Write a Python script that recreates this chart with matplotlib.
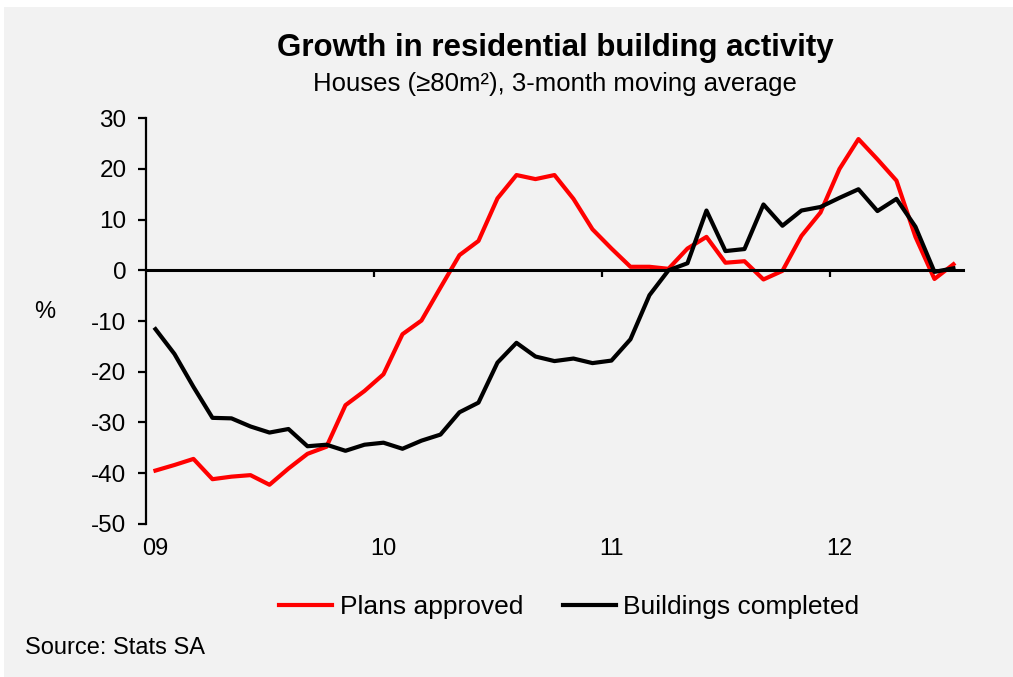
import numpy as np
import matplotlib.pyplot as plt
from matplotlib.patches import Rectangle

plt.rcParams['font.family'] = ['Liberation Sans', 'DejaVu Sans']
plt.rcParams['axes.unicode_minus'] = False

# monthly, Jan 2009 - Jul 2012
plans = [-39.5, -38.4, -37.2, -41.2, -40.7, -40.4, -42.3, -39.1, -36.2, -34.8,
         -26.6, -23.8, -20.5, -12.6, -9.9, -3.4, 3.0, 5.8, 14.2, 18.8,
         18.0, 18.8, 14.1, 8.1, 4.3, 0.7, 0.7, 0.3, 4.3, 6.6,
         1.5, 1.8, -1.8, -0.1, 6.8, 11.4, 20.0, 25.9, 21.9, 17.7,
         6.6, -1.7, 1.2]
completed = [-11.6, -16.5, -23.0, -29.1, -29.2, -30.8, -32.0, -31.3, -34.7, -34.4,
             -35.6, -34.4, -34.0, -35.2, -33.6, -32.4, -28.0, -26.1, -18.2, -14.3,
             -17.0, -17.9, -17.4, -18.3, -17.8, -13.6, -4.9, 0.0, 1.4, 11.8,
             3.8, 4.2, 13.0, 8.8, 11.8, 12.5, 14.3, 16.0, 11.7, 14.1,
             8.6, -0.3, 0.4]
year_labels = ['09', '10', '11', '12']

x = np.arange(len(plans))
bg = '#f2f2f2'

fig = plt.figure(figsize=(10.13, 6.77), dpi=100)
fig.patch.set_facecolor('white')
fig.patches.append(Rectangle((4 / 1013, 0), 1, 1 - 7 / 677, transform=fig.transFigure,
                             facecolor=bg, edgecolor='none', zorder=-10))

ax = fig.add_axes([0.1441, 0.2263, 0.8065, 0.599])
ax.patch.set_alpha(0)

ax.plot(x, plans, color='#ff0000', lw=3, label='Plans approved', zorder=3)
ax.plot(x, completed, color='black', lw=3, label='Buildings completed', zorder=3)

ax.set_xlim(-0.5, len(plans) - 0.5)
ax.set_ylim(-50, 30)
ax.set_yticks(np.arange(-50, 31, 10))

for s in ['top', 'right']:
    ax.spines[s].set_visible(False)
ax.spines['left'].set_linewidth(1.6)
ax.spines['bottom'].set_position(('data', 0))
ax.spines['bottom'].set_linewidth(2.2)
ax.spines['bottom'].set_zorder(4)

ax.set_xticks([11.5, 23.5, 35.5])
ax.set_xticklabels([])
ax.tick_params(axis='x', direction='out', length=5, width=1.6)
ax.tick_params(axis='y', direction='out', length=6, width=1.6, labelsize=17.5, pad=8)

sec = ax.secondary_xaxis('bottom')
sec.set_xticks(np.arange(0, len(plans), 12))
sec.set_xticklabels(year_labels)
sec.tick_params(length=0, labelsize=17, pad=10)
sec.spines['bottom'].set_visible(False)

fig.text(0.0444, 1 - 312 / 677, '%', fontsize=17, ha='center', va='center')
fig.text(0.548, 1 - 48 / 677, 'Growth in residential building activity',
         fontsize=22.5, fontweight='bold', ha='center', va='center')
fig.text(0.548, 1 - 84 / 677, 'Houses (\u226580m\u00b2), 3-month moving average',
         fontsize=18.5, ha='center', va='center')
fig.text(25 / 1013, 1 - 648 / 677, 'Source: Stats SA', fontsize=17, ha='left', va='center')

fig.legend(loc='center', bbox_to_anchor=(0.562, 1 - 607 / 677), ncol=2, frameon=False,
           fontsize=19, handlelength=2.0, handletextpad=0.3, columnspacing=1.5)

fig.savefig('out.png', dpi=100, facecolor=fig.get_facecolor())
